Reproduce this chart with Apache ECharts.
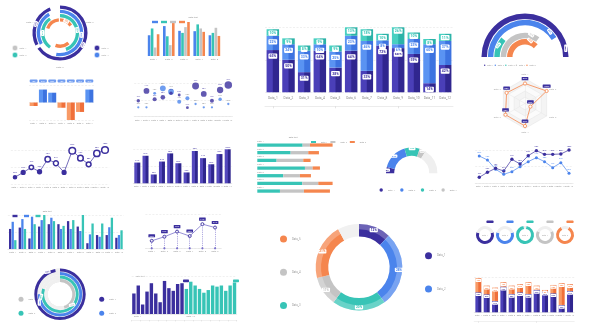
<!DOCTYPE html>
<html><head><meta charset="utf-8">
<script src="https://cdn.jsdelivr.net/npm/echarts/dist/echarts.min.js"></script>
<style>html,body{margin:0;padding:0;background:#fff;width:590px;height:332px;overflow:hidden}
.c{position:absolute;left:0;top:0;width:590px;height:332px}</style>
</head><body>
<script>
// ================= DATA =================
const cat5=['Data_1','Data_2','Data_3','Data_4','Data_5'];
const cat6=['Data_1','Data_2','Data_3','Data_4','Data_5','Data_6'];
const cat7=['Data_1','Data_2','Data_3','Data_4','Data_5','Data_6','Data_7'];
const cat12=['Data_1','Data_2','Data_3','Data_4','Data_5','Data_6','Data_7','Data_8','Data_9','Data_10','Data_11','Data_12'];
const cat24=['Data_1','Data_2','Data_3','Data_4','Data_5','Data_6','Data_7','Data_8','Data_9','Data_10','Data_11','Data_12','Data_13','Data_14','Data_15','Data_16','Data_17','Data_18','Data_19','Data_20','Data_21','Data_22','Data_23','Data_24'];
const seriesNames=['Data_1','Data_2','Data_3','Data_4','Data_5'];

// P1 radial rings (angle spans, visible/gap alternating), inner -> outer
const p1Rings=['Ring_1','Ring_2','Ring_3','Ring_4'];
const p1Spans=[[55,85,60,90,65],[160,55,110,0,0],[190,50,90,0,0],[235,8,95,0,0]];
const p1Angles=['Data_1','Data_2','Data_3'];
const p1Legend=['Data_1','Data_2','Data_3','Data_4'];
// P2 grouped bars
const p2Blue=[61,88,74,73,61];
const p2Teal=[81,58,68,93,68];
const p2Gray=[25,32,85,81,83];
const p2Orange=[64,97,100,71,59];
// P3 stacked bars
const p3Navy=[65,50,31,64,38,64,33,72,68,59,14,42];
const p3Blue=[22,24,33,10,25,23,46,8,6,23,60,37];
const p3Teal=[10,9,8,9,9,13,18,10,26,10,8,11];
// P4 half rings (navy, blue, teal, gray, orange)
const p4Vals=[100,82,22,70,75];
// P5 radar
const p5Vals=[80,85,90,90,25,100];
// P6 positive / negative
const p6Vals=[-10,37,28,-15,-50,-27,37];
// P7 bubbles
const p7Navy=[48,77,52,58,70,65,27,92,68,48,80,95];
const p7NavySize=[3,5,3.5,4,3,2.5,2.5,6,5,3.5,5.5,6.5];
const p7Blue=[28,28,70,85,75,45,55,38,28,28,52,38];
const p7BlueSize=[2,2,2.5,5,5,3.5,3.5,2,2,2,3,2];
// P8 line with rings
const p8Vals=[20,34,49,36,73,61,34,98,76,58,90,100];
// P9 bars
const p9Vals=[61,81,26,64,88,59,32,95,74,56,86,100];
// P10 horizontal stacked
const p10Teal=[136,100,58,143,78,135,68];
const p10Gray=[22,53,80,23,50,48,72];
const p10Orange=[68,32,22,22,33,43,78];
// P11 gauge
const p11Vals=[8,33,19,8];
// P12 two lines
const p12Navy=[18,33,45,37,72,58,83,98,87,87,88,100];
const p12Blue=[82,70,42,27,35,50,65,77,65,47,62,30];
// P13 grouped 3 bars
const p13Navy=[59,63,31,66,73,73,82,66,17,41,41,33];
const p13Blue=[80,88,95,85,92,59,59,53,43,36,64,41];
const p13Teal=[26,59,73,100,82,68,85,100,75,75,92,55];
// P14 line with drop lines
const p14Vals=[22,34,49,36,71,61];
// P15 donut
const p15Vals=[12,28,20,11,21,8];
// P16 small donuts
const p16Vals=[60,60,95,65,85];
// P17 polar rings (inner -> outer: gray, teal, blue, navy)
const p17Vals=[45,80,75,97];
// P18 two-colour bars
const p18Navy=[54,75,25,59,81,54,31,87,68,61,79,81];
const p18Teal=[66,85,75,66,56,63,75,72,75,61,75,83];
// P19 stacked navy/orange
const p19Navy=[60,54,34,77,55,60,55,67,62,57,22,64];
const p19Orange=[42,26,40,13,25,24,35,13,5,25,65,20];

// ================= STYLE =================
const FONT='Roboto';
const C={navy:'#3b2f9e',blue:'#4b84ec',teal:'#37c4b6',gray:'#c4c4c4',orange:'#f5864e',track:'#efefef'};
const LG=(a,b)=>new echarts.graphic.LinearGradient(0,0,1,0,[{offset:0,color:a},{offset:0.45,color:a},{offset:0.55,color:b},{offset:1,color:b}]);
const axisLab={fontSize:2.2,color:'#9b9b9b',margin:2.5,interval:0,fontFamily:FONT};
const AL=(o)=>Object.assign({},axisLab,o||{});
const xCat=(data,extra)=>Object.assign({type:'category',data:data,axisLine:{lineStyle:{color:'#e0e0e0',width:0.6}},axisTick:{show:false},axisLabel:axisLab},extra||{});
const yVal=(min,max,interval,extra)=>Object.assign({type:'value',min:min,max:max,interval:interval,axisLine:{show:false},axisTick:{show:false},axisLabel:{show:false},splitLine:{lineStyle:{color:'#e6e6e6',width:0.6,type:[2,1.5]}}},extra||{});
const box=(color,extra)=>Object.assign({show:true,fontSize:3.4,fontWeight:'bold',color:color,backgroundColor:'#fff',padding:[0.8,1.1,0.4,1.1],borderRadius:0.8,fontFamily:FONT},extra||{});
const tiny=(extra)=>Object.assign({show:true,fontSize:2.2,color:'#7a7a7a',fontFamily:FONT},extra||{});
const legTxt={fontSize:2.6,color:'#9a9a9a',fontFamily:FONT};
function mk(opt){
  const d=document.createElement('div'); d.className='c'; document.body.appendChild(d);
  const ch=echarts.init(d,null,{renderer:'canvas'});
  opt.animation=false; opt.textStyle={fontFamily:FONT};
  ch.setOption(opt); return ch;
}
const gText=(x,y,t,size,fill,align)=>({type:'text',x:x,y:y,style:{text:t,fontSize:size||3,fill:fill||'#a0a0a0',fontFamily:FONT,align:align||'center',verticalAlign:'middle'}});
const gDot=(x,y,r,color)=>({type:'circle',shape:{cx:x,cy:y,r:r},style:{fill:color,stroke:color,lineWidth:1.6,strokeOpacity:0.3}});

// ================= P1 radial rings =================
const p1Colors=[C.orange,C.teal,C.blue,C.navy];
mk({
  polar:{center:[60,33],radius:[11,28]},
  angleAxis:{type:'value',min:0,max:360,startAngle:90,show:false},
  radiusAxis:{type:'category',data:p1Rings,show:false},
  series:[0,1,2,3,4].map(k=>({type:'bar',coordinateSystem:'polar',stack:'p1',barCategoryGap:'22%',
    data:p1Rings.map((r,i)=>{const v=p1Spans[i][k];const o={value:v,itemStyle:{color:k%2?'rgba(0,0,0,0)':p1Colors[i]}};
      if(k%2===0&&v>0&&(i%2===1||k===0)) o.label=box(p1Colors[i],{position:'middle',fontSize:2,formatter:Math.round(v/3.6)+'%'});
      return o;})})),
  graphic:[gText(30,22,p1Angles[0],2.4),gText(90,22,p1Angles[1],2.4),gText(60,67,p1Angles[2],2.4),
    gDot(15,48,2.2,C.gray),gDot(15,55,2.2,C.teal),gDot(97,48,2.2,C.navy),gDot(97,55,2.2,C.blue),
    gText(19.5,48,p1Legend[0],2.3,'#aaa','left'),gText(19.5,55,p1Legend[1],2.3,'#aaa','left'),
    gText(101.5,48,p1Legend[2],2.3,'#aaa','left'),gText(101.5,55,p1Legend[3],2.3,'#aaa','left')]
});

// ================= P2 grouped bars =================
mk({
  grid:{left:146,top:22,width:76,height:34},
  legend:{left:147,top:15.8,itemWidth:6,itemHeight:2.4,itemGap:3,icon:'rect',formatter:()=>'',textStyle:legTxt,data:seriesNames.slice(0,4)},
  xAxis:xCat(cat5,{axisLine:{show:false},axisLabel:AL({fontSize:2.4,margin:2})}),
  yAxis:yVal(0,100,100,{splitLine:{show:false}}),
  series:[[p2Blue,C.blue],[p2Teal,C.teal],[p2Gray,C.gray],[p2Orange,C.orange]].map((s,i)=>({type:'bar',name:seriesNames[i],data:s[0],barWidth:2.6,barGap:'15%',itemStyle:{color:s[1]}})),
  graphic:[gText(193,17.3,'Data text',2.3,'#999')]
});

// ================= P3 central stacked bars =================
mk({
  grid:{left:265,top:27.3,width:188,height:65},
  xAxis:[xCat(cat12,{axisLine:{show:false},axisLabel:AL({fontSize:3.2,margin:4.8,color:'#8a8a8a'})}),
    {type:'category',data:cat12,position:'bottom',offset:14,axisLine:{lineStyle:{color:'#d8d8d8',width:0.5}},axisTick:{show:true,alignWithLabel:true,length:2,lineStyle:{color:'#c8c8c8',width:0.5}},axisLabel:{show:false}}],
  yAxis:yVal(0,100,50),
  series:[
    {type:'bar',stack:'s',data:p3Navy,barWidth:12.5,itemStyle:{color:LG('#4a3fb8','#30268f')},label:box(C.navy,{position:'insideTop',distance:3.5,fontSize:3.5,formatter:'{c}%'})},
    {type:'bar',stack:'s',data:p3Blue,barWidth:12.5,itemStyle:{color:LG('#5a93f2','#3d73e0')},label:box(C.blue,{position:'insideTop',distance:3.5,fontSize:3.5,formatter:'{c}%'})},
    {type:'bar',stack:'s',data:p3Teal,barWidth:12.5,itemStyle:{color:LG('#48d0c1','#2cb3a8')},label:box(C.teal,{position:'insideTop',distance:1.2,fontSize:3.5,formatter:'{c}%'})}
  ]
});

// ================= P4 half rings =================
const p4Colors=[C.navy,C.blue,C.teal,C.gray,C.orange];
const p4Radius=seriesNames.slice().reverse();
mk({
  polar:{center:[525,57],radius:[12,44]},
  angleAxis:{type:'value',min:0,max:200,startAngle:180,show:false},
  radiusAxis:{type:'category',data:p4Radius,show:false},
  legend:{left:479,top:59.2,itemWidth:1.4,itemHeight:1.4,itemGap:1.2,icon:'circle',textStyle:Object.assign({},legTxt,{fontSize:2,padding:[0,0,0,-3.2]}),data:seriesNames},
  series:seriesNames.map((n,i)=>({type:'bar',coordinateSystem:'polar',name:n,barGap:'-100%',barCategoryGap:'14%',
    data:p4Radius.map(r=>r===n?p4Vals[i]:'-'),itemStyle:{color:p4Colors[i]},
    label:box(p4Colors[i],{position:'insideEnd',fontSize:2.2,formatter:'{c}%'})}))
});

// ================= P5 radar =================
mk({
  radar:{center:[525,103.5],radius:25,startAngle:90,splitNumber:4,indicator:cat6.map(n=>({name:n,max:100})),
    axisName:{fontSize:2.3,color:'#aaa',fontFamily:FONT},nameGap:3,
    axisLine:{lineStyle:{color:'#e6e6e6',width:0.5}},splitLine:{lineStyle:{color:'#e3e3e3',width:0.5}},
    splitArea:{areaStyle:{color:['#fbfbfb','#f4f4f4']}}},
  series:[{type:'radar',data:[{value:p5Vals}],symbol:'circle',symbolSize:3.2,
    itemStyle:{color:'#fff',borderColor:C.orange,borderWidth:0.8},lineStyle:{color:C.orange,width:0.8},
    label:{show:true,position:'top',distance:1.2,formatter:'{c}%',fontSize:2.3,color:'#fff',backgroundColor:C.navy,padding:[0.8,1.2,0.4,1.2],borderRadius:0.5,fontFamily:FONT}}]
});

// ================= P6 positive / negative =================
mk({
  grid:{left:29,top:85,width:65,height:35},
  xAxis:[xCat(cat7,{axisLine:{show:false},axisLabel:AL({fontSize:2.2,margin:2.2})}),
    {type:'category',data:p6Vals.map(v=>Math.abs(v)+'%'),position:'top',offset:1,axisLine:{show:false},axisTick:{show:false},
     axisLabel:{fontSize:2.1,margin:1.5,color:'#fff',backgroundColor:'#6f9bf0',padding:[0.6,2,0.3,2],borderRadius:1,interval:0,fontFamily:FONT}}],
  yAxis:yVal(-50,50,50),
  series:[{type:'bar',data:p6Vals,barWidth:8,itemStyle:{color:p=>p.value>=0?LG('#5a93f2','#3d73e0'):LG('#f89a66','#f0703a')}}]
});

// ================= P7 bubbles =================
mk({
  grid:{left:134.2,top:83.3,width:98.2,height:33.4},
  xAxis:xCat(cat12,{axisLabel:AL({margin:2.5})}),
  yAxis:yVal(0,100,50),
  series:[
    {type:'scatter',data:p7Blue,symbolSize:(v,p)=>p7BlueSize[p.dataIndex]*1.15,itemStyle:{color:C.blue},label:tiny({position:'top',distance:1.2,formatter:'{c}%',fontSize:2})},
    {type:'scatter',data:p7Navy,symbolSize:(v,p)=>p7NavySize[p.dataIndex]*1.15,itemStyle:{color:C.navy},label:tiny({position:'top',distance:1.2,formatter:'{c}%',fontSize:2,color:C.navy})}
  ]
});

// ================= P8 line with rings =================
mk({
  grid:{left:10.9,top:150,width:98.2,height:34},
  xAxis:xCat(cat12,{axisLine:{show:false},axisLabel:AL({margin:2.5})}),
  yAxis:yVal(0,100,50),
  series:[{type:'line',data:p8Vals,symbol:'circle',symbolSize:v=>2.2+v*0.045,lineStyle:{color:C.navy,width:0.7},
    itemStyle:{color:p=>p.value<40?C.navy:'#fff',borderColor:C.navy,borderWidth:1.5},
    label:tiny({position:'top',distance:1.5,formatter:'{c}%',fontSize:2.1,color:C.navy})}]
});

// ================= P9 bars =================
mk({
  grid:{left:133.2,top:149.3,width:98.6,height:34},
  xAxis:xCat(cat12,{axisLabel:AL({margin:2.5})}),
  yAxis:yVal(0,100,50),
  series:[{type:'bar',data:p9Vals,barWidth:6,itemStyle:{color:LG('#5448bd','#2f268e')},label:tiny({position:'top',distance:1.2,formatter:'{c}%',fontSize:2.2,color:C.navy})}]
});

// ================= P10 horizontal stacked =================
mk({
  grid:{left:257.3,top:141.2,width:75.3,height:53.7},
  legend:{left:306,top:136,itemWidth:5,itemHeight:2,itemGap:3,icon:'rect',textStyle:Object.assign({},legTxt,{fontSize:2.1}),data:['Data_1','Data_2','Data_3']},
  xAxis:{type:'value',min:0,max:226,show:false},
  yAxis:{type:'category',data:cat7,inverse:true,show:false},
  series:[
    {type:'bar',name:'Data_1',stack:'h',data:p10Teal,barWidth:3.3,itemStyle:{color:C.teal},label:tiny({position:[0,-3],formatter:'{b}',fontSize:2.1,color:'#999'})},
    {type:'bar',name:'Data_2',stack:'h',data:p10Gray,barWidth:3.3,itemStyle:{color:C.gray}},
    {type:'bar',name:'Data_3',stack:'h',data:p10Orange,barWidth:3.3,itemStyle:{color:C.orange}}
  ],
  graphic:[gText(293,137.5,'Data text',2.2,'#999')]
});

// ================= P11 gauge =================
const p11Colors=[C.navy,C.blue,C.teal,C.gray];
mk({
  legend:{left:374.5,top:183.3,itemWidth:3.4,itemHeight:3.4,itemGap:5.5,icon:'circle',textStyle:Object.assign({},legTxt,{fontSize:2.2}),data:seriesNames.slice(0,4)},
  series:[{type:'pie',center:[411.7,173.3],radius:[17.5,25.7],startAngle:180,clockwise:true,silent:true,
    data:p11Vals.map((v,i)=>({name:seriesNames[i],value:v,itemStyle:{color:p11Colors[i]},label:box(p11Colors[i],{position:'inside',fontSize:2.4,formatter:'{c}%'})}))
      .concat([{name:'',value:100-p11Vals.reduce((a,b)=>a+b,0),itemStyle:{color:C.track},label:{show:false}},{name:'',value:100,itemStyle:{color:'rgba(0,0,0,0)'},label:{show:false}}]),
    labelLine:{show:false}}]
});

// ================= P12 two lines =================
mk({
  grid:{left:475.2,top:150,width:97.9,height:33.3},
  xAxis:xCat(cat12,{axisLabel:AL({margin:2.5})}),
  yAxis:yVal(0,100,50),
  series:[
    {type:'line',data:p12Blue,symbol:'circle',symbolSize:3,lineStyle:{color:C.blue,width:0.7},itemStyle:{color:C.blue},label:tiny({position:'top',distance:1.2,formatter:'{c}%',fontSize:2,color:C.blue})},
    {type:'line',data:p12Navy,symbol:'circle',symbolSize:3.4,lineStyle:{color:C.navy,width:0.7},itemStyle:{color:C.navy},label:tiny({position:'top',distance:1.2,formatter:'{c}%',fontSize:2,color:C.navy})}
  ]
});

// ================= P13 grouped 3 bars =================
mk({
  grid:{left:7.9,top:215,width:115.9,height:34},
  legend:{left:7.5,top:209.8,itemWidth:5,itemHeight:2.4,itemGap:6.5,icon:'rect',formatter:()=>'',textStyle:legTxt,data:seriesNames.slice(0,3)},
  xAxis:xCat(cat12,{axisLabel:AL({margin:2.5})}),
  yAxis:yVal(0,100,50),
  series:[[p13Navy,C.navy],[p13Blue,C.blue],[p13Teal,C.teal]].map((s,i)=>({type:'bar',name:seriesNames[i],data:s[0],barWidth:2.3,barGap:'12%',itemStyle:{color:s[1]}})),
  graphic:[gText(47,211,'Data text',2.2,'#999')]
});

// ================= P14 line with drop lines =================
mk({
  grid:{left:145.4,top:214.3,width:76,height:34},
  xAxis:xCat(cat6,{axisLabel:AL({fontSize:2.3,margin:2.5})}),
  yAxis:yVal(0,100,100),
  series:[{type:'line',data:p14Vals,symbol:'circle',symbolSize:3,lineStyle:{color:'#6a60c4',width:0.7},itemStyle:{color:'#fff',borderColor:C.navy,borderWidth:0.9},
    label:{show:true,position:'top',distance:1.5,formatter:'{c}%',fontSize:2.3,color:'#fff',backgroundColor:C.navy,padding:[0.8,1.2,0.4,1.2],borderRadius:0.5,fontFamily:FONT},
    markLine:{silent:true,symbol:['circle','none'],symbolSize:2.2,label:{show:false},lineStyle:{color:'#7a70cc',type:[1.2,1],width:0.6},
      data:p14Vals.map((v,i)=>[{coord:[i,0]},{coord:[i,v]}])}}]
});

// ================= P15 big donut =================
const p15Colors=[C.navy,C.blue,C.teal,C.gray,C.orange,'#f1f1f1'];
const p15Names=['Data_1','Data_2','Data_3','Data_4','Data_5',''];
mk({
  legend:[
    {orient:'vertical',left:275,top:230.5,itemWidth:7,itemHeight:7,itemGap:26.3,icon:'circle',textStyle:Object.assign({},legTxt,{fontSize:2.8}),data:['Data_5','Data_4','Data_3']},
    {orient:'vertical',left:420,top:247.2,itemWidth:7,itemHeight:7,itemGap:26.3,icon:'circle',textStyle:Object.assign({},legTxt,{fontSize:2.8}),data:['Data_1','Data_2']}],
  series:[
    {type:'pie',center:[359,267.3],radius:[30.7,43.3],startAngle:90,silent:true,labelLine:{show:false},
     data:p15Vals.map((v,i)=>({name:p15Names[i],value:v,itemStyle:{color:p15Colors[i]},label:i<5?box(p15Colors[i],{position:'inside',fontSize:3.2,formatter:'{c}%'}):{show:false}}))},
    {type:'pie',center:[359,267.3],radius:[38,43.3],startAngle:90,silent:true,label:{show:false},labelLine:{show:false},legendHoverLink:false,
     data:p15Vals.map((v,i)=>({name:'o'+i,value:v,itemStyle:{color:i<5?'rgba(255,255,255,0.25)':'rgba(0,0,0,0)'}}))}
  ]
});

// ================= P16 small donuts =================
const p16Colors=[C.navy,C.blue,C.teal,C.gray,C.orange];
mk({
  legend:{left:481.5,top:215.5,itemWidth:7,itemHeight:2.6,itemGap:13,icon:'roundRect',formatter:()=>'',textStyle:legTxt,data:seriesNames},
  series:p16Vals.map((v,i)=>({type:'pie',center:[485+20*i,235],radius:[6,9],startAngle:-90+1.8*v,silent:true,labelLine:{show:false},
    data:[{name:seriesNames[i],value:v,itemStyle:{color:p16Colors[i]},label:{show:true,position:'center',formatter:'{b}',fontSize:2,color:'#aaa',fontFamily:FONT}},
          {name:'',value:100-v,itemStyle:{color:C.track},label:{show:false}}]}))
});

// ================= P17 polar rings =================
const p17Names=['Data_1','Data_2','Data_3','Data_4']; // gray, teal, blue, navy
const p17Colors=[C.gray,C.teal,C.blue,C.navy];
mk({
  polar:{center:[60,294.3],radius:[12,26]},
  angleAxis:{type:'value',min:0,max:100,startAngle:90,show:false},
  radiusAxis:{type:'category',data:p17Names,show:false},
  legend:[
    {orient:'vertical',left:13.5,top:291.8,itemWidth:5,itemHeight:5,itemGap:9,icon:'circle',textStyle:Object.assign({},legTxt,{fontSize:2.2}),data:['Data_1','Data_2']},
    {orient:'vertical',left:94.2,top:291.8,itemWidth:5,itemHeight:5,itemGap:9,icon:'circle',textStyle:Object.assign({},legTxt,{fontSize:2.2}),data:['Data_4','Data_3']}],
  series:p17Names.map((n,i)=>({type:'bar',coordinateSystem:'polar',name:n,barGap:'-100%',barCategoryGap:'18%',
    data:p17Names.map(r=>r===n?p17Vals[i]:'-'),itemStyle:{color:p17Colors[i]},showBackground:true,backgroundStyle:{color:'#f0f0f0'},
    label:box(p17Colors[i],{position:'insideEnd',fontSize:2.2,formatter:'{c}%'})}))
});

// ================= P18 two-colour bars =================
mk({
  grid:{left:131.7,top:276,width:105,height:38},
  legend:{left:178,top:274.6,itemWidth:6,itemHeight:2.6,itemGap:44,icon:'roundRect',formatter:()=>'',textStyle:legTxt,data:['Data_1','Data_2']},
  xAxis:[xCat(cat24,{axisLabel:AL({fontSize:2.3,margin:1.5,align:'left',interval:(i)=>i===0||i===12}),
     axisLine:{lineStyle:{color:'#e0e0e0',width:0.6}}}),
    {type:'category',data:cat24,position:'bottom',offset:6,axisLine:{lineStyle:{color:'#e3e3e3',width:0.5}},axisTick:{show:true,interval:1,length:1.5,lineStyle:{color:'#d5d5d5',width:0.5}},axisLabel:{show:false}}],
  yAxis:yVal(0,100,100),
  series:[
    {type:'bar',name:'Data_1',data:p18Navy.concat(p18Teal.map(()=>'-')),barCategoryGap:'22%',barGap:'-100%',itemStyle:{color:C.navy}},
    {type:'bar',name:'Data_2',data:p18Navy.map(()=>'-').concat(p18Teal),barCategoryGap:'22%',barGap:'-100%',itemStyle:{color:C.teal}}
  ],
  graphic:[gText(140,276.5,'Data text',2.2,'#999')]
});

// ================= P19 stacked navy / orange =================
mk({
  grid:{left:474.2,top:277.3,width:100,height:35},
  xAxis:[xCat(cat12,{axisLabel:AL({margin:2})}),
    {type:'category',data:cat12,position:'bottom',offset:9,axisLine:{lineStyle:{color:'#e0e0e0',width:0.5}},axisTick:{show:true,alignWithLabel:true,length:1.5,lineStyle:{color:'#d5d5d5',width:0.5}},axisLabel:{show:false}}],
  yAxis:yVal(0,105,105),
  series:[
    {type:'bar',stack:'s',data:p19Navy,barWidth:6,itemStyle:{color:LG('#4a3fb8','#30268f')},label:box(C.navy,{position:'insideTop',distance:0.6,fontSize:2,formatter:'{c}%'})},
    {type:'bar',stack:'s',data:p19Orange,barWidth:6,itemStyle:{color:LG('#f89a66','#f0703a')},label:box(C.orange,{position:'insideTop',distance:0.6,fontSize:2,formatter:'{c}%'})}
  ]
});
</script>
</body></html>
